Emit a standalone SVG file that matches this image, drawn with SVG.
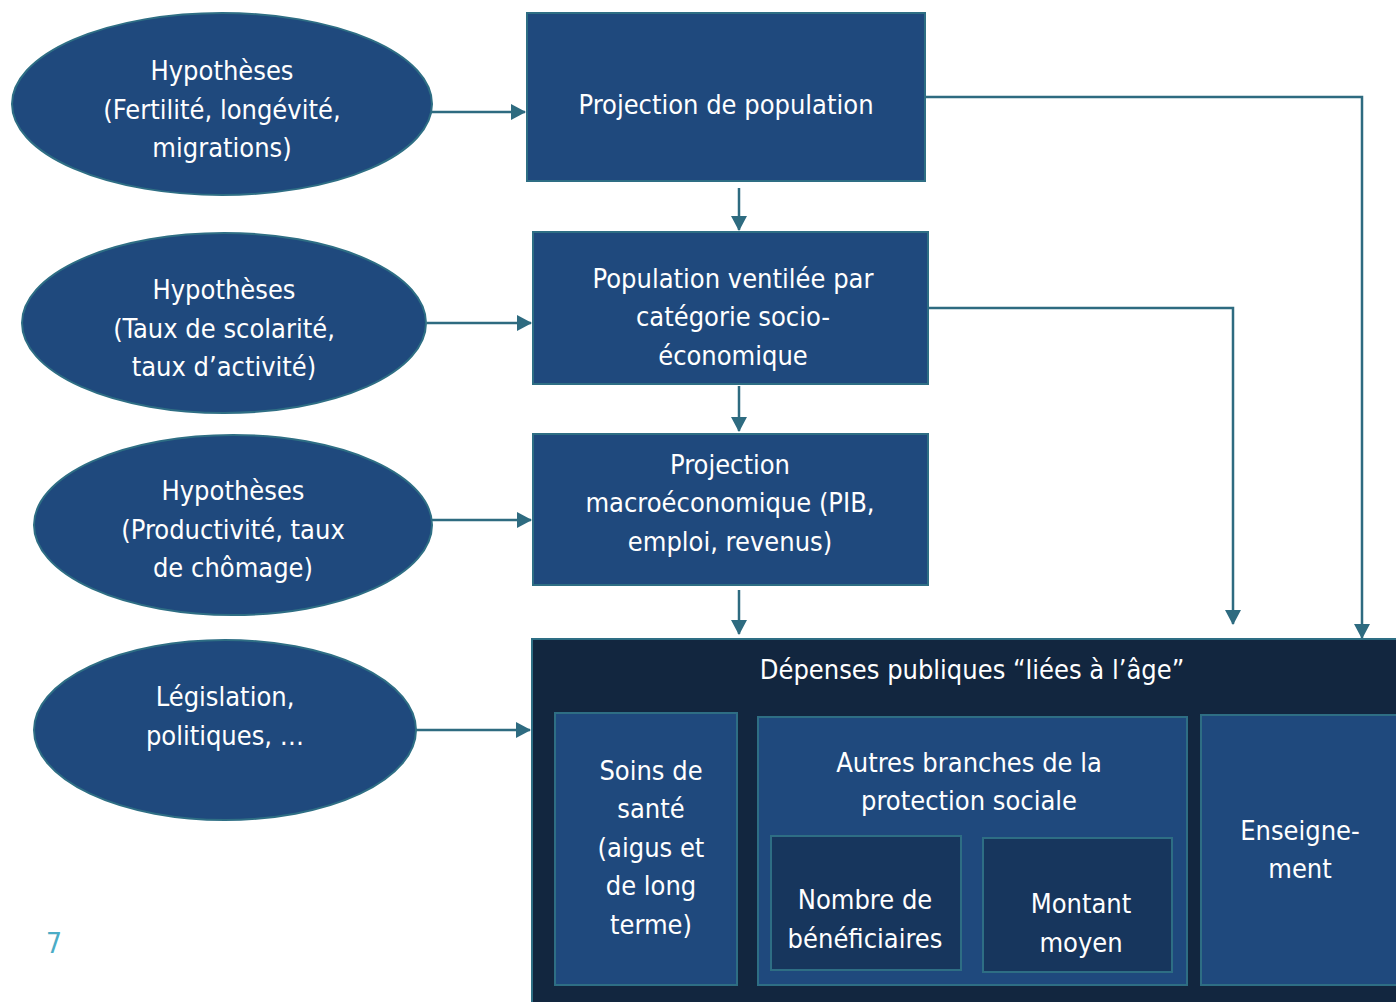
<svg xmlns="http://www.w3.org/2000/svg" width="1396" height="1002" viewBox="0 0 1396 1002">
<defs>
<marker id="ah" markerWidth="16" markerHeight="18" viewBox="0 0 16 18" refX="14" refY="9" orient="auto" markerUnits="userSpaceOnUse">
<path d="M0,1 L15,9 L0,17 Z" fill="#2E6B80"/>
</marker>
<style>
.t{font-family:"Liberation Sans Narrow","DejaVu Sans Condensed","Liberation Sans",sans-serif;font-size:27px;fill:#ffffff;text-anchor:middle}
.ell{fill:#1F497D;stroke:#2E6E84;stroke-width:2}
.box{fill:#1F497D;stroke:#2E6E84;stroke-width:2}
.dk{fill:#17365D;stroke:#2E6E84;stroke-width:2}
.c{fill:none;stroke:#2E6B80;stroke-width:2.5}
</style>
</defs>
<rect width="1396" height="1002" fill="#ffffff"/>
<g id="connectors">
<path class="c" d="M432,112 H525" marker-end="url(#ah)"/>
<path class="c" d="M427,323 H531" marker-end="url(#ah)"/>
<path class="c" d="M432,520 H531" marker-end="url(#ah)"/>
<path class="c" d="M416,730 H530" marker-end="url(#ah)"/>
<path class="c" d="M739,188 V230" marker-end="url(#ah)"/>
<path class="c" d="M739,386 V431" marker-end="url(#ah)"/>
<path class="c" d="M739,590 V634" marker-end="url(#ah)"/>
<path class="c" d="M928,308 H1233 V624" marker-end="url(#ah)"/>
<path class="c" d="M925,97 H1362 V638" marker-end="url(#ah)"/>
</g>
<g id="hyp1">
<ellipse class="ell" cx="222" cy="104" rx="210" ry="91"/>
<text class="t" x="222" y="80">Hypothèses</text>
<text class="t" x="222" y="119">(Fertilité, longévité,</text>
<text class="t" x="222" y="157">migrations)</text>
</g>
<g id="hyp2">
<ellipse class="ell" cx="224" cy="323" rx="202" ry="90"/>
<text class="t" x="224" y="299">Hypothèses</text>
<text class="t" x="224" y="338">(Taux de scolarité,</text>
<text class="t" x="224" y="376">taux d’activité)</text>
</g>
<g id="hyp3">
<ellipse class="ell" cx="233" cy="525" rx="199" ry="90"/>
<text class="t" x="233" y="500">Hypothèses</text>
<text class="t" x="233" y="539">(Productivité, taux</text>
<text class="t" x="233" y="577">de chômage)</text>
</g>
<g id="legis">
<ellipse class="ell" cx="225" cy="730" rx="191" ry="90"/>
<text class="t" x="225" y="706">Législation,</text>
<text class="t" x="225" y="745">politiques, …</text>
</g>
<g id="projpop">
<rect class="box" x="527" y="13" width="398" height="168"/>
<text class="t" x="726" y="114">Projection de population</text>
</g>
<g id="popvent">
<rect class="box" x="533" y="232" width="395" height="152"/>
<text class="t" x="733" y="288">Population ventilée par</text>
<text class="t" x="733" y="326">catégorie socio-</text>
<text class="t" x="733" y="365">économique</text>
</g>
<g id="projmacro">
<rect class="box" x="533" y="434" width="395" height="151"/>
<text class="t" x="730" y="474">Projection</text>
<text class="t" x="730" y="512">macroéconomique (PIB,</text>
<text class="t" x="730" y="551">emploi, revenus)</text>
</g>
<g id="depenses">
<rect x="532" y="639" width="870" height="370" fill="#12263F" stroke="#2E6E84" stroke-width="2"/>
<text class="t" x="972" y="679">Dépenses publiques “liées à l’âge”</text>
</g>
<g id="soins">
<rect class="box" x="555" y="713" width="182" height="272"/>
<text class="t" x="651" y="780">Soins de</text>
<text class="t" x="651" y="818">santé</text>
<text class="t" x="651" y="857">(aigus et</text>
<text class="t" x="651" y="895">de long</text>
<text class="t" x="651" y="934">terme)</text>
</g>
<g id="autres">
<rect class="box" x="758" y="717" width="429" height="268"/>
<text class="t" x="969" y="772">Autres branches de la</text>
<text class="t" x="969" y="810">protection sociale</text>
</g>
<g id="nombre">
<rect class="dk" x="771" y="836" width="190" height="134"/>
<text class="t" x="865" y="909">Nombre de</text>
<text class="t" x="865" y="948">bénéficiaires</text>
</g>
<g id="montant">
<rect class="dk" x="983" y="838" width="189" height="134"/>
<text class="t" x="1081" y="913">Montant</text>
<text class="t" x="1081" y="952">moyen</text>
</g>
<g id="enseignement">
<rect class="box" x="1201" y="715" width="205" height="270"/>
<text class="t" x="1300" y="840">Enseigne-</text>
<text class="t" x="1300" y="878">ment</text>
</g>
<text x="54" y="953" font-family="'Liberation Sans Narrow','DejaVu Sans Condensed',sans-serif" font-size="28" fill="#4BACC6" text-anchor="middle">7</text>
</svg>
